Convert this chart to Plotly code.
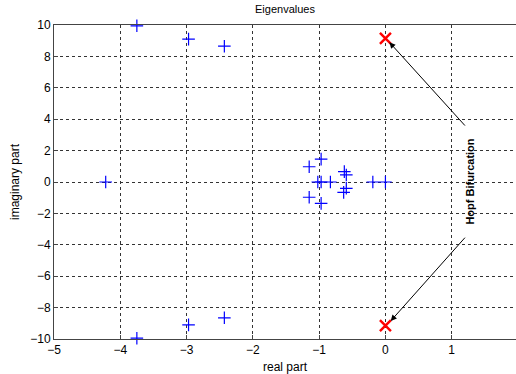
import plotly.graph_objects as go

# Eigenvalues (blue +)
eig_re = [-3.75, -2.97, -2.43, -4.22, -3.75, -2.97, -2.43,
          -0.97, -1.15, -1.02, -0.97, -0.83, -0.62, -0.59, -0.59, -0.63, -1.15, -0.97, -0.19, 0.0]
eig_im = [9.95, 9.1, 8.65, 0.0, -9.95, -9.1, -8.65,
          1.46, 0.97, 0.0, 0.0, 0.0, 0.66, 0.45, -0.4, -0.66, -0.97, -1.36, 0.0, 0.0]

# Hopf bifurcation pair (red x)
hopf_re = [0.0, 0.0]
hopf_im = [9.15, -9.15]

fig = go.Figure()
fig.add_trace(go.Scatter(x=eig_re, y=eig_im, mode="markers",
                         marker=dict(symbol="cross-thin", size=9, color="blue",
                                     line=dict(width=1.2, color="blue")),
                         showlegend=False, cliponaxis=False))
fig.add_trace(go.Scatter(x=hopf_re, y=hopf_im, mode="markers",
                         marker=dict(symbol="x-thin", size=11, color="red",
                                     line=dict(width=2.5, color="red")),
                         showlegend=False))

font = dict(family="Liberation Sans, Arial, sans-serif", size=11, color="black")
font12 = dict(family="Liberation Sans, Arial, sans-serif", size=12, color="black")

fig.add_annotation(x=1.27, y=0, xref="x", yref="y", text="<b>Hopf Bifurcation</b>",
                   textangle=-90, showarrow=False, font=font)
fig.add_annotation(x=0.06, y=8.9, ax=1.22, ay=3.5, xref="x", yref="y", axref="x", ayref="y",
                   text="", showarrow=True, arrowhead=2, arrowsize=1.2, arrowwidth=1, arrowcolor="black")
fig.add_annotation(x=0.08, y=-8.85, ax=1.22, ay=-3.45, xref="x", yref="y", axref="x", ayref="y",
                   text="", showarrow=True, arrowhead=2, arrowsize=1.2, arrowwidth=1, arrowcolor="black")

axis_common = dict(showline=True, linecolor="#444", linewidth=1, mirror=True,
                   showgrid=True, gridcolor="#333", griddash="3px,3px", gridwidth=1,
                   zeroline=False, ticks="inside", ticklen=4, tickcolor="#444",
                   tickfont=font12, automargin=False)

fig.update_layout(
    width=516, height=374,
    margin=dict(l=54, r=0, t=25, b=35),
    paper_bgcolor="white", plot_bgcolor="white",
    font=font,
    title=dict(text="Eigenvalues", x=(54 + 0.5 * 462) / 516, xanchor="center",
               y=1 - 9 / 374, yanchor="middle", yref="container", font=font,
               automargin=False),
    xaxis=dict(range=[-5, 1.97], tickvals=[-5, -4, -3, -2, -1, 0, 1, 2],
               title=dict(text="real part", font=font12, standoff=6), **axis_common),
    yaxis=dict(range=[-10, 10], tickvals=list(range(-10, 11, 2)),
               title=dict(text="imaginary part", font=font12, standoff=8), **axis_common),
)

fig.write_html("out.html", config={"displayModeBar": False},
               post_script="document.body.style.margin='0';")
